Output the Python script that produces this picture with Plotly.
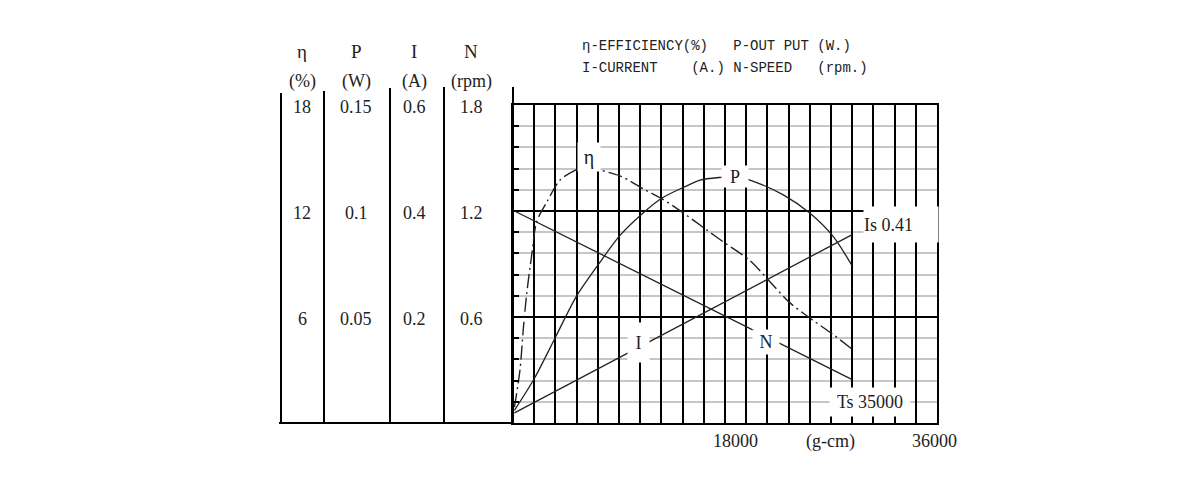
import plotly.graph_objects as go

# ---------------- data ----------------
torque_eta = [150, 720, 1060, 1410, 1930, 2450, 3480, 4850, 6400, 7740, 9150, 11220,
              13620, 15340, 17410, 19810, 21700, 24450, 26340, 28580, 30990, 33050, 34950]
eta_pct = [0.9, 3.0, 5.3, 7.3, 9.5, 11.4, 12.5, 13.75, 14.3, 14.55, 14.3, 13.95,
           13.2, 12.7, 11.95, 11.0, 10.25, 9.2, 8.1, 6.8, 5.8, 5.0, 4.2]

torque_p = [150, 2200, 4330, 6570, 9150, 11040, 13280, 15340, 17750, 19300, 21700,
            22900, 24450, 27890, 30650, 33050, 34950]
power_w = [0.006, 0.021, 0.040, 0.060, 0.077, 0.0885, 0.0985, 0.106, 0.1115, 0.1146, 0.1160,
           0.1165, 0.1146, 0.1076, 0.0989, 0.0879, 0.0745]

torque_line = [150, 34950]
current_a = [0.019, 0.355]
speed_n = [1.2, 0.247]

# left-hand scale table
row_levels = [18, 12, 6]
eta_ticks = ["18", "12", "6"]
p_ticks = ["0.15", "0.1", "0.05"]
i_ticks = ["0.6", "0.4", "0.2"]
n_ticks = ["1.8", "1.2", "0.6"]
col_heads = ["η", "P", "I", "N"]
col_units = ["(%)", "(W)", "(A)", "(rpm)"]

# bottom axis labels
x_label_text = ["18000", "(g-cm)", "36000"]
x_label_pos = [23000, 32800, 43440]

# scale maxima (top of each column)
ETA_MAX, P_MAX, I_MAX, N_MAX = 18, 0.15, 0.6, 1.8
X_MAX = 43750
X_STEP = X_MAX / 20

# ---------------- layout geometry ----------------
W, H = 1200, 500
L, R, T, B = 513, 937, 105, 423
PW, PH = R - L, B - T


def px(xp):
    return (xp - L) / PW


def py(yp):
    return (B - yp) / PH


INK = "#222222"
SERIF = "Liberation Serif"

fig = go.Figure()

fig.add_trace(go.Scatter(x=torque_eta, y=[v * ETA_MAX / ETA_MAX for v in eta_pct], mode="lines",
                         line=dict(color=INK, width=1.4, dash="14px,4px,2px,4px", shape="spline", smoothing=0.8),
                         hoverinfo="skip", showlegend=False))
fig.add_trace(go.Scatter(x=torque_p, y=[v * ETA_MAX / P_MAX for v in power_w], mode="lines",
                         line=dict(color=INK, width=1.3, shape="spline", smoothing=0.8),
                         hoverinfo="skip", showlegend=False))
fig.add_trace(go.Scatter(x=torque_line, y=[v * ETA_MAX / I_MAX for v in current_a], mode="lines",
                         line=dict(color=INK, width=1.3), hoverinfo="skip", showlegend=False))
fig.add_trace(go.Scatter(x=torque_line, y=[v * ETA_MAX / N_MAX for v in speed_n], mode="lines",
                         line=dict(color=INK, width=1.3), hoverinfo="skip", showlegend=False))

annotations = []

# curve labels with white boxes (cover grid and curves)
curve_labels = [
    ("η", 7842, 15.06, 22, 28, "center", 20),
    ("P", 22906, 13.95, 26, 21, "center", 18),
    ("Is 0.41", 40085, 11.24, 74, 35, "left", 18),
    ("I", 12949, 4.56, 21, 39, "center", 18),
    ("N", 26105, 4.58, 26, 24, "center", 18),
    ("Ts 35000", 36835, 1.19, 80, 28, "center", 18),
]
for txt, xv, yv, w, h, al, fs in curve_labels:
    annotations.append(dict(x=xv, y=yv, xref="x", yref="y", text=txt, showarrow=False,
                            bgcolor="white", borderpad=0, width=w, height=h, align=al,
                            font=dict(family=SERIF, size=fs, color=INK)))

# bottom labels
for txt, xv in zip(x_label_text, x_label_pos):
    annotations.append(dict(x=xv, y=py(441), xref="x", yref="paper", text=txt, showarrow=False,
                            xanchor="center", yanchor="middle",
                            font=dict(family=SERIF, size=18, color=INK)))

# legend text (monospace)
NB = "\u00a0"
leg1 = "η-EFFICIENCY(%)" + NB * 3 + "P-OUT" + NB + "PUT" + NB + "(W.)"
leg2 = "I-CURRENT" + NB * 4 + "(A.)" + NB + "N-SPEED" + NB * 3 + "(rpm.)"
for txt, yp in [(leg1, 46), (leg2, 68)]:
    annotations.append(dict(x=px(580), y=py(yp), xref="paper", yref="paper", text=txt,
                            showarrow=False, xanchor="left", yanchor="middle",
                            font=dict(family="Liberation Mono", size=14, color=INK)))

# left table
col_x = [302, 356, 414, 471]
for cx, head, unit in zip(col_x, col_heads, col_units):
    annotations.append(dict(x=px(cx), y=py(51), xref="paper", yref="paper", text=head,
                            showarrow=False, xanchor="center", yanchor="middle",
                            font=dict(family=SERIF, size=19, color=INK)))
    annotations.append(dict(x=px(cx), y=py(81), xref="paper", yref="paper", text=unit,
                            showarrow=False, xanchor="center", yanchor="middle",
                            font=dict(family=SERIF, size=18, color=INK)))
for cx, vals in zip(col_x, [eta_ticks, p_ticks, i_ticks, n_ticks]):
    for lvl, v in zip(row_levels, vals):
        annotations.append(dict(x=px(cx), y=lvl, xref="paper", yref="y", text=v,
                                showarrow=False, xanchor="center", yanchor="middle", yshift=-2,
                                font=dict(family=SERIF, size=18, color=INK)))

shapes = []
for xp, ytop in [(281, 93), (324, 91), (390, 88), (444, 87), (513, 87)]:
    shapes.append(dict(type="line", xref="paper", yref="paper", x0=px(xp), x1=px(xp),
                       y0=py(ytop), y1=0, line=dict(color="black", width=2)))
shapes.append(dict(type="line", xref="paper", yref="paper", x0=px(279), x1=0,
                   y0=0, y1=0, line=dict(color="black", width=2)))

fig.update_layout(
    width=W, height=H,
    margin=dict(l=L, r=W - R, t=T, b=H - B, pad=0),
    paper_bgcolor="white", plot_bgcolor="white",
    showlegend=False,
    annotations=annotations,
    shapes=shapes,
    xaxis=dict(range=[0, X_MAX], tick0=0, dtick=X_STEP, showgrid=True, gridcolor="black",
               gridwidth=2, showticklabels=False, ticks="", zeroline=False,
               showline=True, linecolor="black", linewidth=2, mirror=True, fixedrange=True),
    yaxis=dict(range=[0, ETA_MAX], tick0=0, dtick=6, showgrid=True, gridcolor="black",
               gridwidth=2, showticklabels=False, ticks="", zeroline=False,
               showline=True, linecolor="black", linewidth=2, mirror=True, fixedrange=True,
               minor=dict(dtick=1.2, tick0=0, showgrid=True, gridcolor="#c6c6c6", gridwidth=1.5,
                          ticks="inside", ticklen=6, tickcolor="black", tickwidth=1.5)),
)

fig.write_html("out.html")
